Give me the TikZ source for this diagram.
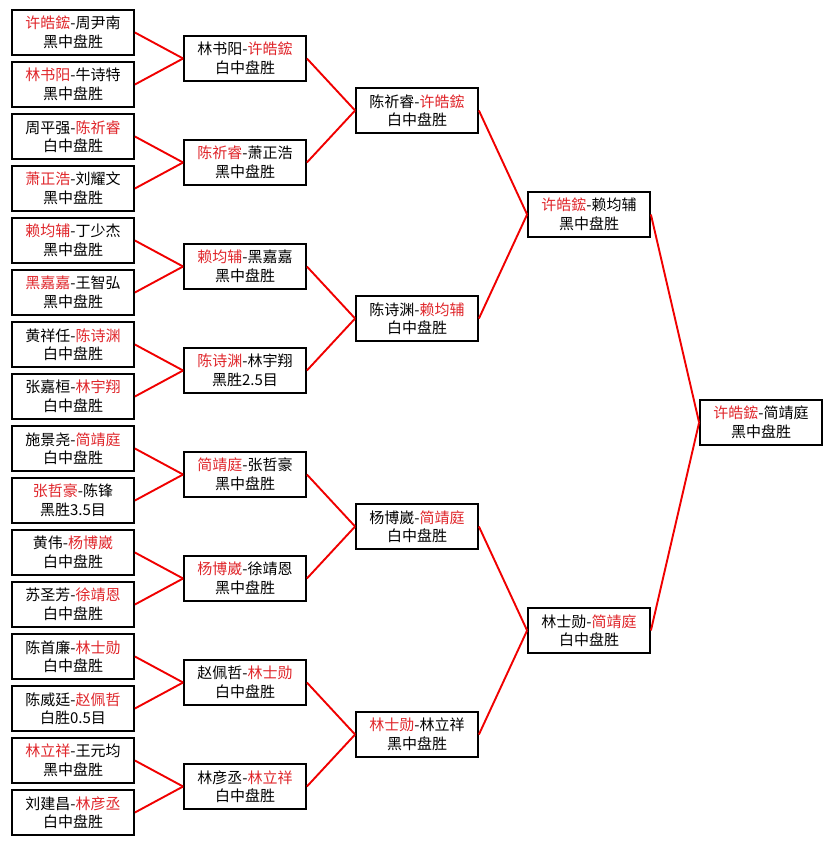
\documentclass[tikz,border=0pt]{standalone}
\usepackage{fontspec}
\setmainfont{Noto Sans CJK SC}
\usepackage{tikz}
\usetikzlibrary{arrows.meta,positioning}
\definecolor{WinRed}{HTML}{E0262B}
\definecolor{LinkRed}{HTML}{F00000}
\newcommand{\winner}[1]{\textcolor{WinRed}{#1}}

\begin{document}
\begin{tikzpicture}[
x=1pt,y=-1pt,
game/.style={draw=black,line width=1.8pt,fill=white,minimum width=122pt,minimum height=45pt,inner sep=0pt,align=center,font=\fontsize{15}{18.5}\selectfont},
link/.style={draw=LinkRed,line width=1.9pt}
]
\useasboundingbox[fill=white] (0,0) rectangle (833,845);
% round of 32
\node[game] (a1) at (73,32.5) {\winner{许皓鋐}-周尹南\\黑中盘胜};
\node[game] (a2) at (73,84.5) {\winner{林书阳}-牛诗特\\黑中盘胜};
\node[game] (a3) at (73,136.5) {周平强-\winner{陈祈睿}\\白中盘胜};
\node[game] (a4) at (73,188.5) {\winner{萧正浩}-刘耀文\\黑中盘胜};
\node[game] (a5) at (73,240.5) {\winner{赖均辅}-丁少杰\\黑中盘胜};
\node[game] (a6) at (73,292.5) {\winner{黑嘉嘉}-王智弘\\黑中盘胜};
\node[game] (a7) at (73,344.5) {黄祥任-\winner{陈诗渊}\\白中盘胜};
\node[game] (a8) at (73,396.5) {张嘉桓-\winner{林宇翔}\\白中盘胜};
\node[game] (a9) at (73,448.5) {施景尧-\winner{简靖庭}\\白中盘胜};
\node[game] (a10) at (73,500.5) {\winner{张哲豪}-陈锋\\黑胜3.5目};
\node[game] (a11) at (73,552.5) {黄伟-\winner{杨博崴}\\白中盘胜};
\node[game] (a12) at (73,604.5) {苏圣芳-\winner{徐靖恩}\\白中盘胜};
\node[game] (a13) at (73,656.5) {陈首廉-\winner{林士勋}\\白中盘胜};
\node[game] (a14) at (73,708.5) {陈威廷-\winner{赵佩哲}\\白胜0.5目};
\node[game] (a15) at (73,760.5) {\winner{林立祥}-王元均\\黑中盘胜};
\node[game] (a16) at (73,812.5) {刘建昌-\winner{林彦丞}\\白中盘胜};
% round of 16
\node[game] (b1) at (245,58.5) {林书阳-\winner{许皓鋐}\\白中盘胜};
\node[game] (b2) at (245,162.5) {\winner{陈祈睿}-萧正浩\\黑中盘胜};
\node[game] (b3) at (245,266.5) {\winner{赖均辅}-黑嘉嘉\\黑中盘胜};
\node[game] (b4) at (245,370.5) {\winner{陈诗渊}-林宇翔\\黑胜2.5目};
\node[game] (b5) at (245,474.5) {\winner{简靖庭}-张哲豪\\黑中盘胜};
\node[game] (b6) at (245,578.5) {\winner{杨博崴}-徐靖恩\\黑中盘胜};
\node[game] (b7) at (245,682.5) {赵佩哲-\winner{林士勋}\\白中盘胜};
\node[game] (b8) at (245,786.5) {林彦丞-\winner{林立祥}\\白中盘胜};
% quarter finals
\node[game] (c1) at (417,110.5) {陈祈睿-\winner{许皓鋐}\\白中盘胜};
\node[game] (c2) at (417,318.5) {陈诗渊-\winner{赖均辅}\\白中盘胜};
\node[game] (c3) at (417,526.5) {杨博崴-\winner{简靖庭}\\白中盘胜};
\node[game] (c4) at (417,734.5) {\winner{林士勋}-林立祥\\黑中盘胜};
% semi finals
\node[game] (d1) at (589,214.5) {\winner{许皓鋐}-赖均辅\\黑中盘胜};
\node[game] (d2) at (589,630.5) {林士勋-\winner{简靖庭}\\白中盘胜};
% final
\node[game] (f) at (761,422.5) {\winner{许皓鋐}-简靖庭\\黑中盘胜};
% links
\draw[link] (a1.east) -- (b1.west);
\draw[link] (a2.east) -- (b1.west);
\draw[link] (a3.east) -- (b2.west);
\draw[link] (a4.east) -- (b2.west);
\draw[link] (a5.east) -- (b3.west);
\draw[link] (a6.east) -- (b3.west);
\draw[link] (a7.east) -- (b4.west);
\draw[link] (a8.east) -- (b4.west);
\draw[link] (a9.east) -- (b5.west);
\draw[link] (a10.east) -- (b5.west);
\draw[link] (a11.east) -- (b6.west);
\draw[link] (a12.east) -- (b6.west);
\draw[link] (a13.east) -- (b7.west);
\draw[link] (a14.east) -- (b7.west);
\draw[link] (a15.east) -- (b8.west);
\draw[link] (a16.east) -- (b8.west);
\draw[link] (b1.east) -- (c1.west);
\draw[link] (b2.east) -- (c1.west);
\draw[link] (b3.east) -- (c2.west);
\draw[link] (b4.east) -- (c2.west);
\draw[link] (b5.east) -- (c3.west);
\draw[link] (b6.east) -- (c3.west);
\draw[link] (b7.east) -- (c4.west);
\draw[link] (b8.east) -- (c4.west);
\draw[link] (c1.east) -- (d1.west);
\draw[link] (c2.east) -- (d1.west);
\draw[link] (c3.east) -- (d2.west);
\draw[link] (c4.east) -- (d2.west);
\draw[link] (d1.east) -- (f.west);
\draw[link] (d2.east) -- (f.west);
\end{tikzpicture}
\end{document}
